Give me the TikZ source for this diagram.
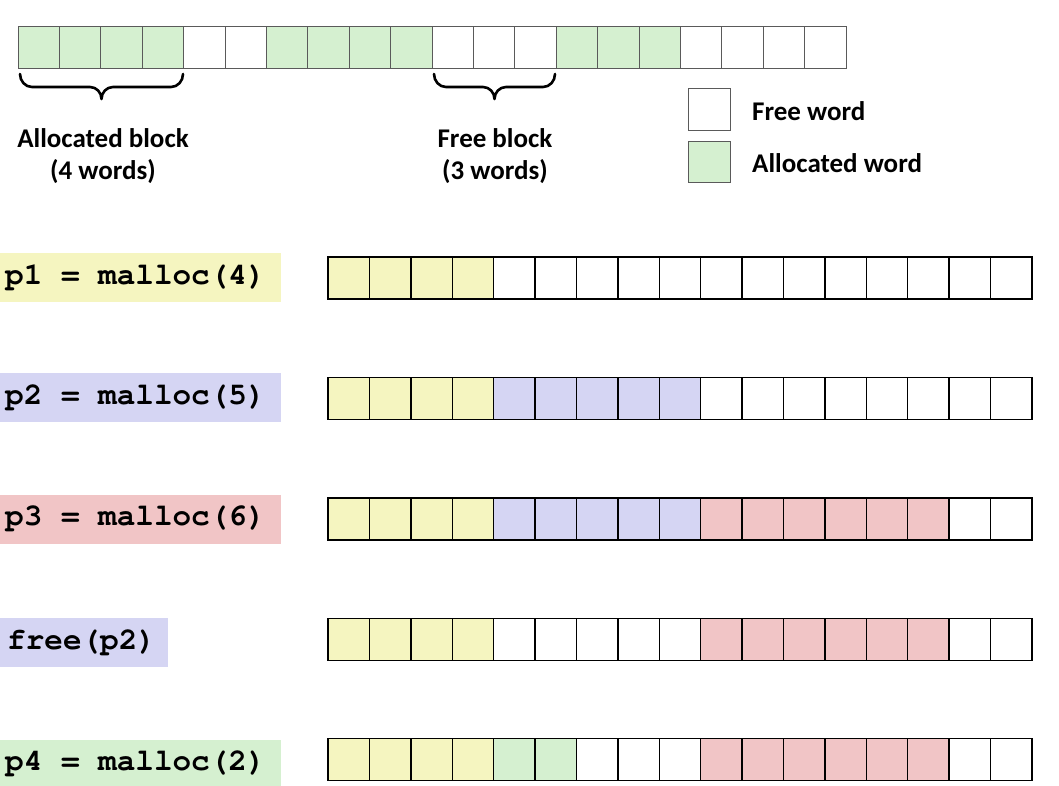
\documentclass[tikz,border=0pt]{standalone}
\usepackage{fontspec}
\setmainfont{Carlito}
\newfontfamily\codefont[BoldFont=texgyrecursor-bold.otf]{texgyrecursor-regular.otf}
\DeclareRobustCommand\mycodespace{\spaceskip=0.6em\relax\xspaceskip=0.6em\relax}
\definecolor{cgreen}{HTML}{D5F0D0}
\definecolor{cyellow}{HTML}{F5F5C0}
\definecolor{cblue}{HTML}{D5D5F3}
\definecolor{cpink}{HTML}{F1C5C6}
\definecolor{topline}{HTML}{5A5A5A}
\begin{document}
\begin{tikzpicture}[x=1pt,y=-1pt,
  topcell/.style={draw=topline,line width=0.9pt,minimum width=41.4pt,minimum height=42pt,inner sep=0pt,anchor=north west,outer sep=0pt},
  rowcell/.style={draw=black,line width=1.4pt,minimum width=41.4pt,minimum height=42pt,inner sep=0pt,anchor=north west,outer sep=0pt},
  lbl/.style={anchor=west,inner xsep=5pt,inner ysep=0pt,minimum height=49pt,align=left,font=\codefont\bfseries\fontsize{31}{32}\selectfont,execute at begin node=\mycodespace},
  capt/.style={font=\bfseries\fontsize{27}{32}\selectfont,align=center},
  legtxt/.style={anchor=west,font=\bfseries\fontsize{27}{32}\selectfont,inner sep=0pt},
  bracestyle/.style={line width=2.6pt,line cap=round,line join=round}]
\useasboundingbox (0,0) rectangle (1059,785);
\fill[white] (0,0) rectangle (1059,785);

% top heap
\foreach \c [count=\i] in {cgreen,cgreen,cgreen,cgreen,white,white,cgreen,cgreen,cgreen,cgreen,white,white,white,cgreen,cgreen,cgreen,white,white,white,white}
  \node[topcell,fill=\c] (t\i) at ({18+41.4*(\i-1)},26) {};

% braces
\draw[bracestyle] (20,74) to[out=-90,in=180] (32,87) -- (90,87) to[out=0,in=90] (101.5,99) to[out=90,in=180] (113,87) -- (171,87) to[out=0,in=-90] (183,74);
\draw[bracestyle] (434,74) to[out=-90,in=180] (446,87) -- (483,87) to[out=0,in=90] (494.5,99) to[out=90,in=180] (506,87) -- (543,87) to[out=0,in=-90] (555,74);

\node[capt] (ab) at (103,156) {Allocated block\\(4 words)};
\node[capt] (fb) at (495,156) {Free block\\(3 words)};

% legend
\node[draw=topline,line width=0.9pt,fill=white,minimum width=42pt,minimum height=42pt,inner sep=0pt] (lfree) at (709,109) {};
\node[draw=topline,line width=0.9pt,fill=cgreen,minimum width=42pt,minimum height=41pt,inner sep=0pt] (lalloc) at (709,161.5) {};
\node[legtxt] (lfreet) at (752,111) {Free word};
\node[legtxt] (lalloct) at (752,163) {Allocated word};

% labels
\node[lbl,fill=cyellow,text width=271pt] (l1) at (0,277.5) {p1 = malloc(4)};
\node[lbl,fill=cblue,text width=271pt] (l2) at (0,397.5) {p2 = malloc(5)};
\node[lbl,fill=cpink,text width=271pt] (l3) at (0,519) {p3 = malloc(6)};
\node[lbl,fill=cblue,inner xsep=7pt,text width=154pt] (l4) at (0,642.5) {free(p2)};
\node[lbl,fill=cgreen,text width=271pt] (l5) at (0,764) {p4 = malloc(2)};

% rows
\foreach \c [count=\i] in {cyellow,cyellow,cyellow,cyellow,white,white,white,white,white,white,white,white,white,white,white,white,white}
  \node[rowcell,fill=\c] (a\i) at ({328+41.4*(\i-1)},257) {};
\foreach \c [count=\i] in {cyellow,cyellow,cyellow,cyellow,cblue,cblue,cblue,cblue,cblue,white,white,white,white,white,white,white,white}
  \node[rowcell,fill=\c] (b\i) at ({328+41.4*(\i-1)},377.5) {};
\foreach \c [count=\i] in {cyellow,cyellow,cyellow,cyellow,cblue,cblue,cblue,cblue,cblue,cpink,cpink,cpink,cpink,cpink,cpink,white,white}
  \node[rowcell,fill=\c] (c\i) at ({328+41.4*(\i-1)},498) {};
\foreach \c [count=\i] in {cyellow,cyellow,cyellow,cyellow,white,white,white,white,white,cpink,cpink,cpink,cpink,cpink,cpink,white,white}
  \node[rowcell,fill=\c] (d\i) at ({328+41.4*(\i-1)},618.5) {};
\foreach \c [count=\i] in {cyellow,cyellow,cyellow,cyellow,cgreen,cgreen,white,white,white,cpink,cpink,cpink,cpink,cpink,cpink,white,white}
  \node[rowcell,fill=\c] (e\i) at ({328+41.4*(\i-1)},738.5) {};
\end{tikzpicture}
\end{document}
